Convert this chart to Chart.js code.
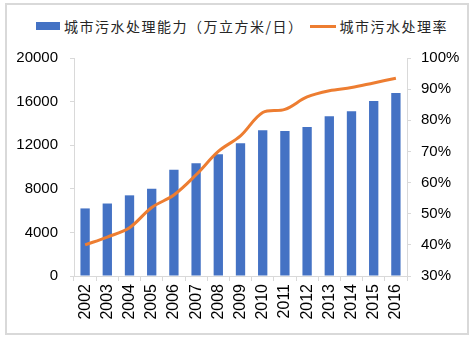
<!DOCTYPE html>
<html>
<head>
<meta charset="utf-8">
<script src="https://cdn.jsdelivr.net/npm/chart.js@4/dist/chart.umd.min.js"></script>
<style>
    html, body { margin: 0; padding: 0; background: #fff; }
    #wrap { position: relative; width: 471px; height: 338px; }
    #frame { position: absolute; left: 5px; top: 3px; width: 460px; height: 328px; border: 2px solid #d9d9d9; }
    #legend { position: absolute; left: 36px; top: 15px; height: 22px; display: flex; align-items: center;
              font: 14px "Noto Sans CJK SC", sans-serif; letter-spacing: 1.5px; color: #262626; white-space: nowrap; }
    .swatch-bar { display: inline-block; width: 24px; height: 8px; background: #4472c4; margin-right: 4px; }
    .swatch-line { display: inline-block; width: 26px; height: 3px; background: #ed7d31; margin: 0 4px 0 6px; }
    canvas { position: absolute; left: 0; top: 0; }
</style>
</head>
<body>
<div id="wrap">
    <div id="frame"></div>
    <div id="legend">
        <span class="swatch-bar"></span><span>城市污水处理能力（万立方米/日）</span>
        <span class="swatch-line"></span><span>城市污水处理率</span>
    </div>
    <canvas id="chart" width="471" height="338"></canvas>
</div>
<script>
const years = ['2002', '2003', '2004', '2005', '2006', '2007', '2008', '2009', '2010', '2011', '2012', '2013', '2014', '2015', '2016'];
// 万立方米/日
const capacity = [6200, 6650, 7400, 8000, 9750, 10350, 11170, 12170, 13370, 13300, 13670, 14650, 15110, 16050, 16790];
// %
const rate = [40, 42.5, 45.5, 52, 56, 62.5, 70, 75, 82.5, 83.5, 87.5, 89.5, 90.5, 92, 93.5];
const leftTicks = [0, 4000, 8000, 12000, 16000, 20000];
const rightTicks = [30, 40, 50, 60, 70, 80, 90, 100];

const AXIS_COLOR = '#d9d9d9';
const TEXT_COLOR = '#000';

let ctx = document.getElementById('chart').getContext('2d');

let myChart = new Chart(ctx, {
    type: 'bar',
    data: {
        labels: years,
        datasets: [{
            type: 'line',
            label: '城市污水处理率',
            data: rate,
            yAxisID: 'y2',
            borderColor: '#ed7d31',
            borderWidth: 3,
            pointRadius: 0,
            tension: 0.35,
            order: 0
        }, {
            label: '城市污水处理能力（万立方米/日）',
            data: capacity,
            yAxisID: 'y',
            backgroundColor: '#4472c4',
            barPercentage: 0.42,
            categoryPercentage: 1,
            order: 1
        }]
    },
    options: {
        responsive: false,
        animation: false,
        layout: { padding: { top: 58, left: 0, right: 0, bottom: 0 } },
        plugins: {
            legend: { display: false },
            tooltip: { enabled: false }
        },
        scales: {
            x: {
                offset: true,
                grid: { offset: true, drawOnChartArea: false, color: AXIS_COLOR, tickLength: 5 },
                border: { color: AXIS_COLOR, width: 1 },
                ticks: {
                    color: TEXT_COLOR, padding: 3, autoSkip: false,
                    minRotation: 90, maxRotation: 90,
                    font: { family: 'Liberation Sans', size: 16 }
                },
                afterFit: (scale) => { scale.height = 62; }
            },
            y: {
                position: 'left',
                min: 0, max: 20000,
                afterBuildTicks: (scale) => { scale.ticks = leftTicks.map(v => ({ value: v })); },
                grid: { drawOnChartArea: false, color: AXIS_COLOR, tickLength: 4 },
                border: { color: AXIS_COLOR, width: 1 },
                ticks: {
                    color: TEXT_COLOR, padding: 12,
                    font: { family: 'Liberation Sans', size: 15 },
                    callback: (v) => String(v)
                },
                afterFit: (scale) => { scale.width = 74; }
            },
            y2: {
                position: 'right',
                min: 30, max: 100,
                afterBuildTicks: (scale) => { scale.ticks = rightTicks.map(v => ({ value: v })); },
                grid: { drawOnChartArea: false, color: AXIS_COLOR, tickLength: 4 },
                border: { color: AXIS_COLOR, width: 1 },
                ticks: {
                    color: TEXT_COLOR, padding: 10,
                    font: { family: 'Liberation Sans', size: 15 },
                    callback: (v) => v + '%'
                },
                afterFit: (scale) => { scale.width = 64; }
            }
        }
    }
});
</script>
</body>
</html>
